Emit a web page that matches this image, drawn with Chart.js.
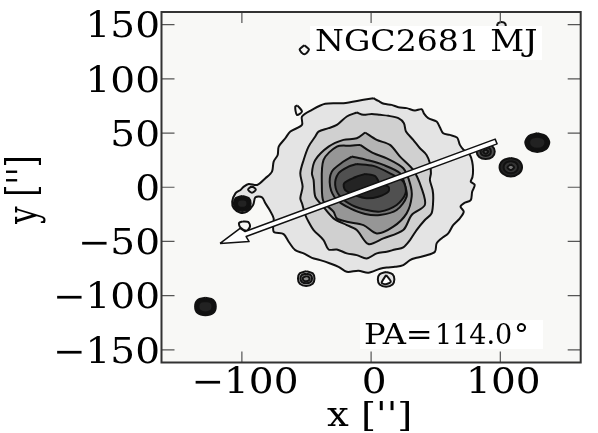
<!DOCTYPE html>
<html>
<head>
<meta charset="utf-8">
<style>
  html, body { margin: 0; padding: 0; background: #fff; }
  #wrap { width: 598px; height: 433px; }
</style>
<script src="https://cdn.jsdelivr.net/npm/chart.js@4/dist/chart.umd.js"></script>
</head>
<body>
<div id="wrap"><canvas id="chart" width="598" height="433"></canvas></div>
<script>
const xTicks = [-100, 0, 100];
const yTicks = [-150, -100, -50, 0, 50, 100, 150];

// galaxy isophotes, outermost first
const level1 = [[1.8,82.2],[5.6,79.7],[10,77],[15.9,76],[21.1,73.9],[27.5,73],[33.9,70.8],[39.1,72],[41.1,67.7],[44.2,63.7],[50.7,60.6],[53.2,55.4],[55.8,49.8],[60.9,48.3],[66.6,45.8],[68.7,39.1],[71.7,34.4],[76.4,29.8],[78.2,23.7],[78.9,16],[78.4,9.2],[77.1,5.2],[80.2,2.1],[78.2,-4.1],[77.1,-11.8],[71.7,-14.8],[69.2,-17.9],[71.7,-22.5],[68.7,-28.7],[63.5,-34.9],[59.7,-42.6],[54.5,-47.2],[50.7,-51.8],[49.4,-59.5],[41.6,-63.2],[35.2,-65.1],[30.1,-67.2],[24.9,-71.8],[18.5,-73.4],[12.1,-74],[6.9,-75.2],[-2.1,-78.9],[-9.8,-77.1],[-18.8,-78],[-25.2,-73.4],[-31.7,-70.3],[-39.4,-67.2],[-45.8,-65.1],[-52.2,-61],[-58.7,-58],[-63.8,-50.3],[-67.7,-43.2],[-75.4,-41],[-75.4,-28.7],[-78.5,-21],[-81.8,-14.8],[-84.4,-9.3],[-89.5,-9.3],[-91.3,-16.4],[-96,-22.5],[-101.1,-23.5],[-106.2,-19.5],[-107.5,-13.3],[-105,-5.6],[-101.1,-2.5],[-98.5,0.6],[-94.7,3],[-88.2,2.1],[-81.8,8.3],[-76.7,14.4],[-75.4,23.7],[-72.3,29.8],[-71.5,37.5],[-66.4,45.2],[-62.5,51.4],[-53.5,57.5],[-53.5,65.3],[-45.8,71.4],[-35.5,77],[-21.4,77.6],[-5.9,80.7]];
const level2 = [[-11.1,69],[-5.9,66.8],[0.5,67.7],[6.9,66.8],[13.4,65.9],[21.1,63.7],[25.4,59.1],[27,51.4],[32.6,43.7],[37.8,36],[42.9,29.8],[45.5,22.1],[46.3,12.9],[45.5,6.7],[47.6,-2.5],[48.1,-10.2],[46.8,-24.1],[41.6,-30.2],[35.2,-39.5],[30.1,-48.7],[24.9,-55.5],[18.5,-57.4],[12.1,-59.5],[4.4,-61],[-3.4,-65.7],[-11.1,-62.6],[-18.8,-61],[-26.5,-57.4],[-32.9,-57.4],[-36.8,-48.7],[-44.5,-39.5],[-48.4,-31.8],[-50.9,-25.6],[-53.5,-14.8],[-54.8,-10.2],[-53,0.6],[-54.8,12.9],[-52.2,25.2],[-48.4,37.5],[-43.2,46.8],[-40.7,51.4],[-32.9,54.5],[-26.5,57.5],[-18.8,65.3]];
const level3 = [[-4.6,50.5],[4.4,43.7],[14.6,39.1],[22.4,28.3],[32.6,16],[39.1,-1],[41.6,-16.4],[31.4,-25.6],[24.9,-39.5],[9.5,-47.2],[-2.1,-52.4],[-11.1,-39.5],[-18.8,-34.9],[-29.1,-28.7],[-38.1,-16.4],[-43.2,-8.7],[-44.5,6.7],[-45.8,12.9],[-43.2,25.2],[-32.9,37.5],[-21.4,43.7],[-11.1,45.2]];
const level4 = [[-8.5,39.1],[1.8,31.4],[12.1,26.7],[24.9,17.5],[30.1,3.6],[31.4,-8.7],[27.5,-24.1],[17.2,-36.4],[4.4,-42.6],[-5.9,-34.9],[-18.8,-31.8],[-26.5,-28.7],[-29.1,-22.5],[-36.8,-13.3],[-38.1,0.6],[-36.8,25.2],[-26.5,37.5],[-16.2,38.4]];
const level5 = [[-14.9,28.3],[-3.4,25.2],[9.5,20.6],[22.4,12.9],[26.2,2.1],[27.5,-8.7],[19.8,-21],[6.9,-25.6],[-4.6,-24.7],[-16.2,-19.5],[-26.5,-11.8],[-31.7,0.6],[-30.4,14.4],[-21.4,23.7]];
const level6 = [[-11.1,21.5],[1.8,19.7],[14.6,12.9],[24.9,5.2],[26.7,-5.6],[19.8,-16.4],[6.9,-22.5],[-3.4,-21],[-14.9,-16.4],[-23.9,-8.7],[-27.8,2.1],[-25.2,12.9],[-17.5,19]];
const level7 = [[-4.6,12.3],[3.1,10.4],[6.9,3.6],[13.4,0.6],[13.4,-4],[5.6,-8.7],[-3.4,-10.2],[-12.4,-7.1],[-20.1,-2.5],[-20.9,3.6],[-12.4,9.2]];

// stars and small knots
const starA1 = [[-128.2,-102],[-122.2,-104],[-120.2,-110],[-122.2,-116],[-128.2,-118],[-134.2,-116],[-136.2,-110],[-134.2,-104]];
const starA2 = [[-128.2,-105],[-124.2,-106],[-122.7,-110],[-124.2,-114],[-128.2,-115.5],[-132.2,-114],[-133.7,-110],[-132.2,-106]];
const starB1 = [[-99.7,-8],[-94.7,-10],[-93.2,-15],[-94.7,-20],[-99.7,-22],[-104.7,-20],[-106.2,-15],[-104.7,-10]];
const starB2 = [[-99.7,-11],[-96.7,-12],[-95.7,-15],[-96.7,-18],[-99.7,-19],[-102.7,-18],[-103.7,-15],[-102.7,-12]];
const starC1 = [[-50.2,-77.4],[-45.2,-79.4],[-43.8,-84.2],[-45.2,-89],[-50.2,-91],[-55.2,-89],[-56.6,-84.2],[-55.2,-79.4]];
const starC2 = [[-50.2,-79.8],[-46.8,-81],[-45.7,-84.2],[-46.8,-87.4],[-50.2,-88.6],[-53.6,-87.4],[-54.7,-84.2],[-53.6,-81]];
const starC3 = [[-50.2,-82],[-48.2,-83],[-47.7,-85],[-49.2,-86.5],[-52.2,-86],[-52.7,-83.5]];
const starD1 = [[11.6,-78.2],[16.6,-80.2],[18,-85],[16.6,-89.8],[11.6,-91.8],[6.6,-89.8],[5.2,-85],[6.6,-80.2]];
const starD2 = [[11.6,-81],[15.2,-87.2],[11.6,-89.4],[8.2,-88.2]];
const starE1 = [[88.7,39.7],[93.8,37.9],[95.7,32.9],[93.8,27.9],[88.7,26.1],[83.6,27.9],[81.7,32.9],[83.6,37.9]];
const starE2 = [[88.7,36.9],[91.7,35.9],[92.7,32.9],[91.7,29.9],[88.7,28.9],[85.7,29.9],[84.7,32.9],[85.7,35.9]];
const starE3 = [[88.7,34.9],[90.7,32.9],[88.7,30.9],[86.7,32.9]];
const starF1 = [[108.1,27.1],[114.2,24.6],[116.8,18.5],[114.2,12.4],[108.1,9.9],[102,12.4],[99.4,18.5],[102,24.6]];
const starF2 = [[108.1,24.1],[112.1,22.5],[113.7,18.5],[112.1,14.5],[108.1,12.9],[104.1,14.5],[102.5,18.5],[104.1,22.5]];
const starF3 = [[108.1,21.1],[110.7,18.5],[108.1,15.9],[105.5,18.5]];
const starG1 = [[128.6,49.8],[135.2,47.3],[137.9,41.2],[135.2,35.1],[128.6,32.6],[122,35.1],[119.3,41.2],[122,47.3]];
const starG2 = [[128.6,46.8],[133.2,45.2],[134.9,41.2],[133.2,37.2],[128.6,35.6],[124,37.2],[122.3,41.2],[124,45.2]];
const knot1 = [[-51.7,131],[-48.1,127],[-51.7,122.7],[-55.3,127]];
const knot2 = [[-56.9,75.4],[-53.5,69.9],[-57.4,66.8],[-58.7,74.5]];
const knot3 = [[-92.2,1],[-89.2,-2],[-92.2,-5],[-95.2,-2]];
const knot4 = [[-99.2,-31.5],[-95.2,-32],[-93.7,-36],[-96.2,-40],[-101.2,-37],[-102.2,-33]];
const knot5 = [[97.8,151],[100.8,152.5],[103.8,151],[103.8,147],[97.8,147]];

// position angle arrow
const arrow = [[-116.9,-51.8],[-101.4,-37.9],[-97.5,-40.9],[96,44.4],[97.5,40],[-96.7,-45.5],[-94.4,-50.1]];

const shapes = [
  [level1, '#e4e4e4'], [level2, '#d0d0d0'], [level3, '#b4b4b4'], [level4, '#969696'],
  [level5, '#747474'], [level6, '#505050'], [level7, '#242424'],
  [starA1, '#111111'], [starA2, '#222222'], [starB1, '#111111'], [starB2, '#222222'],
  [starC1, '#b4b4b4'], [starC2, '#747474'], [starC3, '#8c8c8c'],
  [starD1, '#e4e4e4'], [starD2, '#ffffff'],
  [starE1, '#505050'], [starE2, '#3a3a3a'], [starE3, '#555555'],
  [starF1, '#222222'], [starF2, '#333333'], [starF3, '#777777'],
  [starG1, '#111111'], [starG2, '#222222'],
  [knot1, '#f8f8f6'], [knot2, '#f8f8f6'], [knot3, '#e4e4e4'], [knot4, '#f8f8f6'], [knot5, '#e4e4e4'],
  [arrow, '#ffffff']
];

const serif = '"DejaVu Serif"';
const ink = '#000';

function toPoints(poly) {
  const pts = poly.map(p => ({ x: p[0], y: p[1] }));
  pts.push(pts[0]);
  return pts;
}

const datasets = shapes.map(([poly, color], i) => ({
  data: toPoints(poly),
  showLine: true,
  fill: 'shape',
  backgroundColor: color,
  borderColor: '#111',
  borderWidth: poly === arrow ? 1.5 : 2,
  borderJoinStyle: 'round',
  pointRadius: 0,
  // arrow keeps its corners, the contours get softened a bit
  tension: poly === arrow ? 0 : 0.3,
  order: shapes.length - i
}));

// text is stretched sideways in the original, like the plot itself
function stretchedText(ctx, text, x, y, size, sx, align) {
  ctx.save();
  ctx.font = size + 'px ' + serif;
  const w = ctx.measureText(text).width * sx;
  const left = align === 'right' ? x - w : align === 'center' ? x - w / 2 : x;
  ctx.translate(left, y);
  ctx.scale(sx, 1);
  ctx.textBaseline = 'alphabetic';
  ctx.textAlign = 'left';
  ctx.fillStyle = ink;
  ctx.fillText(text, 0, 0);
  ctx.restore();
}

const fmt = v => String(v).replace('-', '\u2212');

const framePlugin = {
  id: 'frame',
  beforeDatasetsDraw(chart) {
    const { ctx, chartArea: a } = chart;
    ctx.fillStyle = '#f8f8f6';
    ctx.fillRect(a.left, a.top, a.right - a.left, a.bottom - a.top);
  },
  afterDatasetsDraw(chart) {
    const { ctx, chartArea: a, scales } = chart;
    // white label boxes
    ctx.fillStyle = '#fff';
    ctx.fillRect(310, 26, 232, 34);
    ctx.fillRect(360, 320, 183, 29);
    stretchedText(ctx, 'NGC2681 MJ', 315, 51, 29, 1.14);
    stretchedText(ctx, 'PA=', 364, 343.5, 27, 1.19);
    stretchedText(ctx, '114.0', 435, 343.5, 27, 1.0);
    stretchedText(ctx, '\u00b0', 514, 343.5, 27, 1.1);

    // inward ticks on all four sides
    ctx.strokeStyle = '#555';
    ctx.lineWidth = 1.2;
    ctx.beginPath();
    xTicks.forEach(v => {
      const px = scales.x.getPixelForValue(v);
      ctx.moveTo(px, a.top); ctx.lineTo(px, a.top + 11);
      ctx.moveTo(px, a.bottom); ctx.lineTo(px, a.bottom - 11);
    });
    yTicks.forEach(v => {
      const py = scales.y.getPixelForValue(v);
      ctx.moveTo(a.left, py); ctx.lineTo(a.left + 13, py);
      ctx.moveTo(a.right, py); ctx.lineTo(a.right - 13, py);
    });
    ctx.stroke();

    ctx.strokeStyle = '#333';
    ctx.lineWidth = 2;
    ctx.strokeRect(a.left, a.top, a.right - a.left, a.bottom - a.top);

    // tick labels
    xTicks.forEach(v => {
      stretchedText(ctx, fmt(v), scales.x.getPixelForValue(v) + 3, 393, 35, 1.115, 'center');
    });
    yTicks.forEach(v => {
      stretchedText(ctx, fmt(v), 160, scales.y.getPixelForValue(v) + 12.7, 35, 1.115, 'right');
    });

    // axis titles
    stretchedText(ctx, "x ['']", 327, 425.5, 33, 1.17);
    ctx.save();
    ctx.translate(35.5, 224);
    ctx.rotate(-Math.PI / 2);
    ctx.scale(1, 1.3);
    ctx.font = '31px ' + serif;
    ctx.fillStyle = ink;
    ctx.fillText("y ['']", 0, 0);
    ctx.restore();
  }
};

new Chart(document.getElementById('chart'), {
  type: 'scatter',
  data: { datasets },
  plugins: [framePlugin],
  options: {
    responsive: false,
    animation: false,
    layout: { padding: { top: 12, right: 17.3, left: 0, bottom: 0 } },
    plugins: { legend: { display: false }, tooltip: { enabled: false } },
    scales: {
      x: {
        type: 'linear', min: -162.2, max: 162.2,
        border: { display: false },
        grid: { display: false },
        afterBuildTicks: s => { s.ticks = xTicks.map(v => ({ value: v })); },
        afterFit: s => { s.height = 70.5; },
        ticks: { display: false }
      },
      y: {
        type: 'linear', min: -161.7, max: 161.7,
        border: { display: false },
        grid: { display: false },
        afterBuildTicks: s => { s.ticks = yTicks.map(v => ({ value: v })); },
        afterFit: s => { s.width = 161.5; },
        ticks: { display: false }
      }
    }
  }
});
</script>
</body>
</html>
